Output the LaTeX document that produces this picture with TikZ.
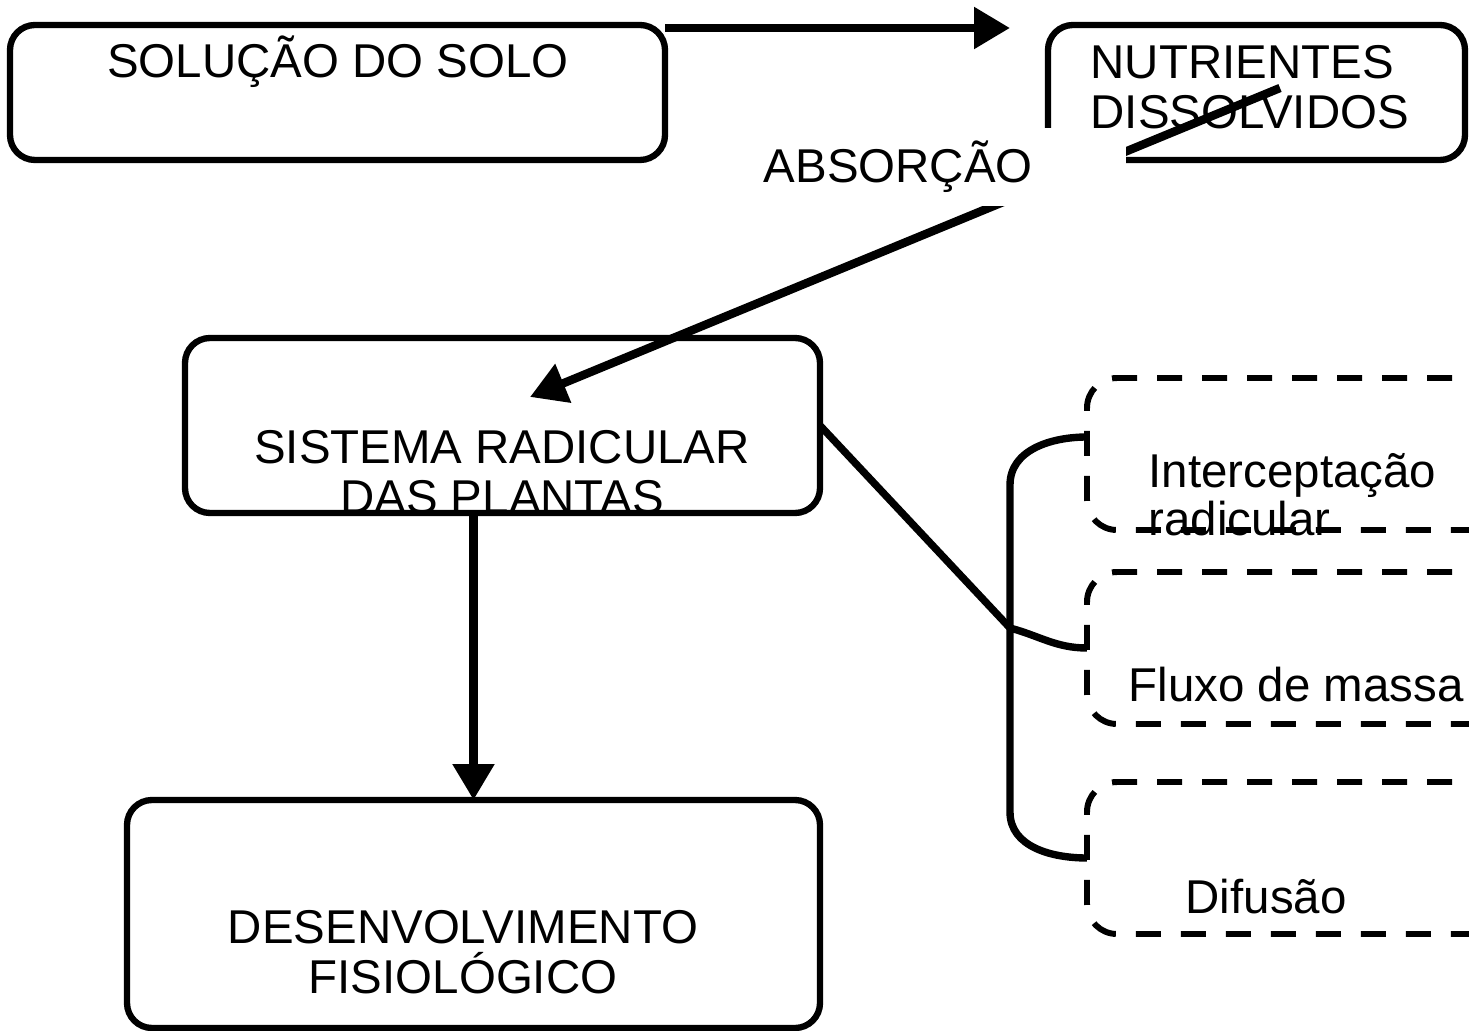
\documentclass[tikz,border=0pt]{standalone}
\usepackage{fontspec}
\setmainfont{Liberation Sans}
\usetikzlibrary{arrows.meta, positioning, calc}

\begin{document}
\begin{tikzpicture}[
  >={Triangle[length=3.6mm, width=4mm]},
  mainbox/.style={draw, rounded corners=2.5mm, line width=1.8pt, anchor=north west, inner sep=0pt, outer sep=0pt},
  optbox/.style={draw, dash pattern=on 2.5mm off 2mm, rounded corners=3mm, line width=1.7pt, anchor=north west, inner sep=0pt, outer sep=0pt, minimum width=4.4cm, minimum height=1.52cm},
  boxtext/.style={inner sep=0pt, font=\fontsize{13.5}{14.2}\selectfont, align=center},
  flow/.style={->, line width=2.4pt},
  link/.style={line width=2.1pt}
]
\useasboundingbox (0,0) rectangle (14.69,-10.31);
\clip (0,0) rectangle (14.69,-10.31);

% Soil side
\node[mainbox, minimum width=6.55cm, minimum height=1.35cm] (Solo)  at (0.10,-0.25) {};
\node[boxtext] (SoloTxt) at (3.38,-0.62) {SOLUÇÃO DO SOLO};
\node[mainbox, minimum width=4.17cm, minimum height=1.35cm] (Nutri) at (10.48,-0.25) {};
\node[boxtext, anchor=west, align=left] (NutriTxt) at (10.90,-0.87) {NUTRIENTES\\DISSOLVIDOS};

% Plant side
\node[mainbox, minimum width=6.35cm, minimum height=1.75cm] (Raiz)   at (1.85,-3.38) {};
\node[boxtext] (RaizTxt) at (5.02,-4.72) {SISTEMA RADICULAR\\DAS PLANTAS};
\node[mainbox, minimum width=6.93cm, minimum height=2.28cm] (Desenv) at (1.27,-8.00) {};
\node[boxtext] (DesenvTxt) at (4.63,-9.52) {DESENVOLVIMENTO\\FISIOLÓGICO};

% Ways of reaching the root (cut by the right edge)
\node[optbox] (Interc) at (10.87,-3.78) {};
\node[optbox] (Fluxo)  at (10.87,-5.72) {};
\node[optbox] (Difus)  at (10.87,-7.82) {};
\node[boxtext, anchor=west, align=left, font=\fontsize{13.5}{12.5}\selectfont] (IntercTxt) at (11.48,-4.95) {Interceptação\\radicular};
\node[boxtext, anchor=west] (FluxoTxt) at (11.28,-6.85) {Fluxo de massa};
\node[boxtext, anchor=west] (DifusTxt) at (11.85,-8.97) {Difusão};

% Flows
\draw[flow] ([yshift=-0.3mm]Solo.north east) -- ([xshift=-3.8mm, yshift=-0.3mm]Nutri.north west);
\coordinate (AbsStart) at (12.80,-0.88);
\coordinate (AbsEnd)   at (5.30,-3.97);
\draw[flow] (AbsStart) -- (AbsEnd);
\draw[flow] (Raiz.south -| Desenv.north) -- (Desenv.north);

% Label on a white patch over the arrow
\node[boxtext, fill=white, anchor=north west, align=left, text width=3.54cm, minimum height=0.78cm, inner xsep=0.08cm] (Absorb) at (7.55,-1.27) {ABSORÇÃO};

% Brace to the three ways
\coordinate (Knee)     at (10.10,-6.28);
\coordinate (BraceTop) at (10.10,-4.85);
\coordinate (BraceBot) at (10.10,-8.12);
\draw[link] (Raiz.east) -- (Knee) to[out=-15, in=180] (Fluxo.west);
\draw[link] ([yshift=1.7mm]Interc.west) to[out=180, in=90] (BraceTop) -- (BraceBot) to[out=-90, in=180] (Difus.west);

\end{tikzpicture}
\end{document}
